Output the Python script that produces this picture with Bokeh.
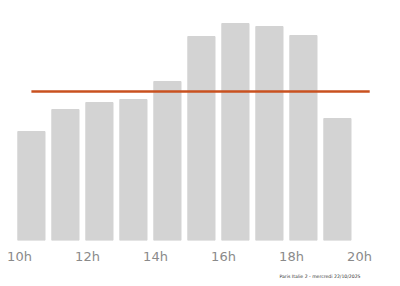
from bokeh.plotting import figure
from bokeh.models import FixedTicker, Title, ColumnDataSource
from bokeh.embed import file_html
from bokeh.resources import INLINE

hours = [10, 11, 12, 13, 14, 15, 16, 17, 18, 19]
values = [109, 131, 138, 141, 159, 204, 217, 214, 205, 122]
avg_x = [10.35, 20.3]
avg_y = [149, 149]
tick_hours = [10, 12, 14, 16, 18, 20]
tick_labels = ["10h", "12h", "14h", "16h", "18h", "20h"]
footer = "Paris Italie 2 - mercredi 22/10/2025"

bar_pos = [h + 0.35 for h in hours]
src = ColumnDataSource(dict(x=bar_pos, top=values))

p = figure(width=400, height=286, output_backend="svg", toolbar_location=None,
           x_range=(9.441, 9.441 + 400 / 34), y_range=(0, 240),
           min_border_left=0, min_border_right=0, min_border_top=0, min_border_bottom=46)
p.outline_line_color = None
p.background_fill_color = "white"
p.border_fill_color = "white"
p.grid.visible = False
p.yaxis.visible = False

p.vbar(x="x", top="top", bottom=0, width=0.8, source=src, color="#d3d3d3")
p.line(avg_x, avg_y, line_color="#c9511f", line_width=2.5)

ax = p.xaxis[0]
ax.ticker = FixedTicker(ticks=tick_hours)
ax.major_label_overrides = {h: t for h, t in zip(tick_hours, tick_labels)}
ax.axis_line_color = None
ax.major_tick_line_color = None
ax.minor_tick_line_color = None
ax.major_label_text_font = "DejaVu Sans"
ax.major_label_text_font_size = "13px"
ax.major_label_text_color = "#8a8a8a"
ax.major_label_standoff = 2

p.add_layout(Title(text=footer, align="right", offset=40, standoff=11,
                   text_font="DejaVu Sans", text_font_size="4.6px",
                   text_color="#333333", text_font_style="normal"), "below")

open("out.html", "w").write(file_html(p, INLINE))
